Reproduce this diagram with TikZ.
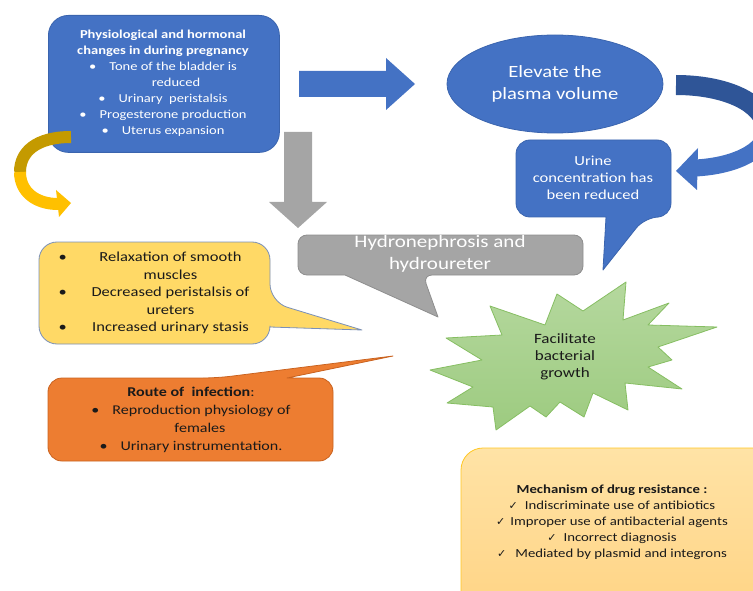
\documentclass[tikz,border=0pt]{standalone}
\usepackage{fontspec}
\setmainfont{Carlito}[FakeStretch=1.2]
\newfontfamily\symfont{DejaVu Sans}
\usetikzlibrary{shapes.geometric}
\definecolor{oblue}{HTML}{4472C4}
\definecolor{obluedk}{HTML}{3A64AE}
\definecolor{obluearc}{HTML}{2F5597}
\definecolor{ogray}{HTML}{A5A5A5}
\definecolor{ograydk}{HTML}{8E8E8E}
\definecolor{oyellow}{HTML}{FFD966}
\definecolor{oyellowbd}{HTML}{7A90B8}
\definecolor{oorange}{HTML}{ED7D31}
\definecolor{oorangebd}{HTML}{C9621F}
\definecolor{ogreentop}{HTML}{B5D89E}
\definecolor{ogreenbot}{HTML}{9DCB80}
\definecolor{ogreenbd}{HTML}{86BE62}
\definecolor{ogoldtop}{HTML}{C49A00}
\definecolor{ogoldbot}{HTML}{FFC000}
\definecolor{olighttop}{HTML}{FFE3A6}
\definecolor{olightbot}{HTML}{FFD383}
\definecolor{olightbd}{HTML}{FFC722}
\definecolor{otext}{HTML}{1A1A1A}
\tikzset{
  bluefill/.style={fill=oblue, draw=obluedk, line width=0.8pt},
  grayfill/.style={fill=ogray, draw=ograydk, line width=0.8pt},
  bodytext/.style={align=center},
  bigtext/.style={align=center, text=white},
}
\newcommand{\blt}{\textbullet\hspace{13pt}}
\newcommand{\chk}{{\symfont\fontsize{11}{16}\selectfont ✓}}
\begin{document}
\begin{tikzpicture}[x=1pt,y=-1pt, line join=round]
\useasboundingbox (0,0) rectangle (753,591);
\clip (0,0) rectangle (753,591);

% ---- top-left blue box
\node[bluefill, rounded corners=20pt, minimum width=231pt, minimum height=137pt,
      anchor=north west, inner sep=0pt] (physbox) at (48,15) {};
\node[bodytext, text=white, font=\fontsize{12.1}{16}\selectfont] (phys) at (163,83)
 {\textbf{Physiological and hormonal}\\
  \textbf{changes in during pregnancy}\\
  \blt Tone of the bladder is\\
  \hspace{26pt}reduced\\
  \blt Urinary\ \ peristalsis\\
  \blt Progesterone production\\
  \blt Uterus expansion};

% ---- blue right arrow
\fill[oblue] (299,71) -- (386,71) -- (386,58) -- (415,84) -- (386,110) -- (386,97) -- (299,97) -- cycle;

% ---- ellipse
\node[ellipse, bluefill, minimum width=216pt, minimum height=98pt, inner sep=0pt] (plasma) at (555,84) {};
\node[bigtext, font=\fontsize{17.2}{22}\selectfont] (plasmatext) at (555,84) {Elevate the\\plasma volume};

% ---- curved blue arrow at right
\draw[obluearc, line width=20pt] (676,85) .. controls (718,85) and (758,98) .. (766,124);
\draw[oblue, line width=17pt] (766,124) .. controls (772,148) and (738,166) .. (695,168);
\fill[oblue] (698,148) -- (676,171) -- (697,190) -- cycle;

% ---- urine callout
\path[bluefill, rounded corners=14pt] (593,140) -- (671,140) -- (671,217) -- (645,217)
  [sharp corners] -- (603,270) -- (606,217) [rounded corners=14pt] -- (516,217) -- (516,140) -- cycle;
\node[bodytext, text=white, font=\fontsize{13.8}{17}\selectfont] (urine) at (593,178)
 {Urine\\concentration has\\been reduced};

% ---- gray down arrow
\fill[ogray] (284,132) -- (312,132) -- (312,202) -- (327,202) -- (298,228) -- (269,202) -- (284,202) -- cycle;

% ---- gray callout
\path[grayfill, rounded corners=9pt] (440,235) -- (583,235) -- (583,275) -- (423,275)
  [sharp corners] -- (438,317) -- (345,275) [rounded corners=9pt] -- (298,275) -- (298,235) -- cycle;
\node[bigtext, font=\fontsize{17.5}{22}\selectfont] (hydro) at (440,254) {Hydronephrosis and\\hydroureter};

% ---- gold curved arrow
\draw[ogoldtop, line width=12pt] (71,137) .. controls (36,137) and (20,152) .. (20,172);
\draw[ogoldbot, line width=12pt] (20,172) .. controls (20,192) and (36,204) .. (58,204);
\fill[ogoldbot] (56,190) -- (71,203) -- (59,217) -- cycle;

% ---- yellow callout
\path[fill=oyellow, draw=oyellowbd, line width=0.8pt, rounded corners=18pt]
  (150,242) -- (270,242) -- (270,302) [sharp corners] -- (362,330) -- (270,327)
  [rounded corners=18pt] -- (270,344) -- (39,344) -- (39,242) -- cycle;
\node[bodytext, text=otext, font=\fontsize{13.75}{17.5}\selectfont] (relax) at (158,293)
 {\makebox[25pt][l]{\hspace{3pt}\textbullet}\makebox[180pt][c]{Relaxation of smooth}\\
  \makebox[25pt][l]{}\makebox[180pt][c]{muscles}\\
  \makebox[25pt][l]{\hspace{3pt}\textbullet}\makebox[180pt][c]{Decreased peristalsis of}\\
  \makebox[25pt][l]{}\makebox[180pt][c]{ureters}\\
  \makebox[25pt][l]{\hspace{3pt}\textbullet}\makebox[180pt][c]{Increased urinary stasis}};

% ---- orange callout
\path[fill=oorange, draw=oorangebd, line width=0.8pt, rounded corners=14pt]
  (100,378) -- (217,378) [sharp corners] -- (393,356) -- (287,378)
  [rounded corners=14pt] -- (333,378) -- (333,461) -- (48,461) -- (48,378) -- cycle;
\node[bodytext, text=otext, font=\fontsize{13.4}{18}\selectfont] (route) at (191,420)
 {\textbf{Route of\ \ infection}:\\
  \blt Reproduction physiology of\\
  \hspace{18pt}females\\
  \blt Urinary instrumentation.};

% ---- green starburst
\shadedraw[top color=ogreentop, bottom color=ogreenbot, draw=ogreenbd, line width=0.8pt]
  (430,370) -- (482,360) -- (446,338) -- (502,335) -- (490,306) -- (545,325) -- (557,294)
  -- (583,311) -- (626,282) -- (623,320) -- (669,303) -- (648,325) -- (717,327)
  -- (658,347) -- (672,360) -- (648,367) -- (682,389) -- (625,383) -- (628,410)
  -- (593,393) -- (584,417) -- (560,402) -- (546,417) -- (530,406) -- (496,430)
  -- (493,407) -- (447,403) -- (473,387) -- cycle;
\node[bodytext, text=otext, font=\fontsize{14.2}{17}\selectfont] (growth) at (565,357)
 {Facilitate\\bacterial\\growth};

% ---- mechanism box
\shadedraw[top color=olighttop, bottom color=olightbot, draw=olightbd, line width=0.8pt,
  rounded corners=22pt] (461,448) rectangle (775,620);
\node[bodytext, text=otext, font=\fontsize{12.3}{16}\selectfont] (mech) at (612,522)
 {\textbf{Mechanism of drug resistance :}\\
  \chk\hspace{7pt}Indiscriminate use of antibiotics\\
  \chk\hspace{5pt}Improper use of antibacterial agents\\
  \chk\hspace{7pt}Incorrect diagnosis\\
  \chk\hspace{9pt}Mediated by plasmid and integrons};
\end{tikzpicture}
\end{document}
